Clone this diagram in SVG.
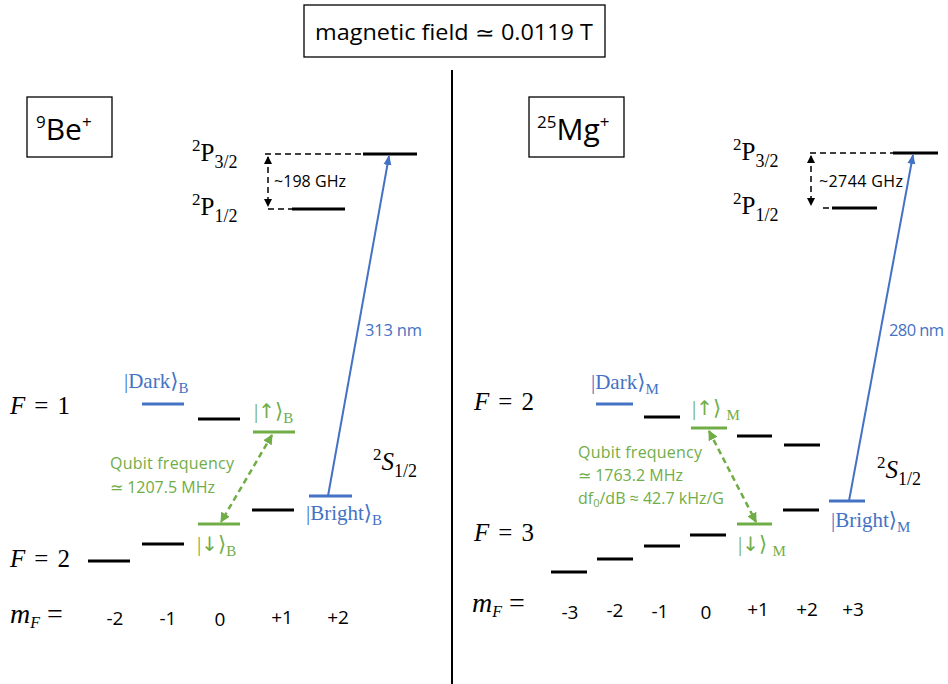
<svg xmlns="http://www.w3.org/2000/svg" width="948" height="684" viewBox="0 0 948 684">
<style>
.sans{font-family:"Open Sans","Liberation Sans",sans-serif}
.serif{font-family:"Liberation Serif","DejaVu Serif",serif}
.math{font-family:"Liberation Serif","DejaVu Serif",serif;font-size:25px}
.it{font-style:italic}
.lvl{stroke:#000;stroke-width:3}
.blue{stroke:#4472C4;stroke-width:3}
.green{stroke:#70AD47;stroke-width:3}
.box{fill:#fff;stroke:#000;stroke-width:1.3}
.dash{stroke:#000;stroke-width:1.5;stroke-dasharray:6 4;fill:none}
.gtxt{fill:#70AD47;font-size:16px}
.btxt{fill:#4472C4}
.ket{font-size:21px}
.arr{font-family:"DejaVu Sans",sans-serif;font-size:20px}
</style>
<defs>
<marker id="ab" markerWidth="8" markerHeight="8" refX="7" refY="4" orient="auto-start-reverse" markerUnits="userSpaceOnUse"><path d="M0,0 L8,4 L0,8 z" fill="#000"/></marker>
<marker id="ag" markerWidth="10" markerHeight="10" refX="9" refY="5" orient="auto-start-reverse" markerUnits="userSpaceOnUse"><path d="M0,0 L10,5 L0,10 z" fill="#70AD47"/></marker>
<marker id="abl" markerWidth="10" markerHeight="10" refX="9" refY="5" orient="auto" markerUnits="userSpaceOnUse"><path d="M0,1 L10,5 L0,9 z" fill="#4472C4"/></marker>
</defs>
<rect width="948" height="684" fill="#fff"/>

<g id="title">
<rect class="box" x="304" y="5" width="301" height="52"/>
<text class="sans" x="454" y="40" font-size="21" text-anchor="middle" textLength="278" lengthAdjust="spacingAndGlyphs">magnetic field ≃ 0.0119 T</text>
</g>
<g id="divider"><line x1="452" y1="70" x2="452" y2="684" stroke="#000" stroke-width="2"/></g>

<!-- LEFT: Be -->
<g id="be-label">
<rect class="box" x="27" y="97" width="85" height="60"/>
<text class="sans" x="36" y="140" font-size="30"><tspan font-size="17" dy="-12">9</tspan><tspan dy="12">Be</tspan><tspan font-size="17" dy="-12">+</tspan></text>
</g>
<g id="be-p32">
<text class="math" x="192" y="161"><tspan font-size="17" dy="-10">2</tspan><tspan dy="10">P</tspan><tspan font-size="18" dy="7">3/2</tspan></text>
<line class="lvl" x1="363" y1="154" x2="417" y2="154"/>
</g>
<g id="be-p12">
<text class="math" x="192" y="215"><tspan font-size="17" dy="-10">2</tspan><tspan dy="10">P</tspan><tspan font-size="18" dy="7">1/2</tspan></text>
<line class="lvl" x1="292" y1="209" x2="345" y2="209"/>
</g>
<g id="be-s12"><text class="math" x="373" y="470"><tspan font-size="17" dy="-10">2</tspan><tspan class="it" dy="10">S</tspan><tspan font-size="18" dy="7">1/2</tspan></text></g>
<g id="be-F1"><text class="math" x="10" y="414" textLength="60"><tspan class="it">F</tspan> = 1</text></g>
<g id="be-F2"><text class="math" x="10" y="567" textLength="60"><tspan class="it">F</tspan> = 2</text></g>
<g id="be-dark">
<line class="blue" x1="142" y1="404" x2="184" y2="404"/>
<text class="serif btxt ket" x="124" y="388">|Dark⟩<tspan font-size="15" dy="5">B</tspan></text>
</g>
<g id="be-F1m0"><line class="lvl" x1="198" y1="419" x2="240" y2="419"/></g>
<g id="be-up">
<line class="green" x1="253" y1="432" x2="295" y2="432"/>
<text class="serif ket" fill="#70AD47" x="254" y="418">|<tspan class="arr">↑</tspan>⟩<tspan font-size="15" dy="5">B</tspan></text>
</g>
<g id="be-bright">
<line class="blue" x1="309" y1="496" x2="352" y2="496"/>
<text class="serif btxt ket" x="306" y="520">|Bright⟩<tspan font-size="15" dy="5">B</tspan></text>
</g>
<g id="be-F2p1"><line class="lvl" x1="252" y1="510" x2="294" y2="510"/></g>
<g id="be-down">
<line class="green" x1="198" y1="524" x2="240" y2="524"/>
<text class="serif ket" fill="#70AD47" x="197" y="551">|<tspan class="arr">↓</tspan>⟩<tspan font-size="15" dy="5">B</tspan></text>
</g>
<g id="be-F2m1"><line class="lvl" x1="142" y1="544" x2="184" y2="544"/></g>
<g id="be-F2m2"><line class="lvl" x1="88" y1="561" x2="130" y2="561"/></g>
<g id="be-qubit">
<text class="sans gtxt" x="110" y="469" textLength="124">Qubit frequency</text>
<text class="sans gtxt" x="110" y="493">≃ 1207.5 MHz</text>
</g>
<g id="be-ghz"><text class="sans" x="274" y="187" font-size="16" textLength="72">~198 GHz</text></g>
<g id="be-nm"><text class="sans btxt" x="365" y="336" font-size="16.5" textLength="57">313 nm</text></g>
<g id="be-mf">
<text class="math" x="10" y="623"><tspan class="it" font-size="28">m</tspan><tspan class="it" font-size="16" dy="5">F</tspan><tspan dy="-5" font-size="28"> =</tspan></text>
<g class="sans" font-size="19" text-anchor="middle">
<text x="115" y="625">-2</text><text x="168" y="625">-1</text><text x="220" y="626">0</text><text x="282" y="624">+1</text><text x="338" y="624">+2</text>
</g>
</g>

<!-- RIGHT: Mg -->
<g id="mg-label">
<rect class="box" x="529" y="97" width="95" height="60"/>
<text class="sans" x="537" y="140" font-size="30"><tspan font-size="17" dy="-12">25</tspan><tspan dy="12">Mg</tspan><tspan font-size="17" dy="-12">+</tspan></text>
</g>
<g id="mg-p32">
<text class="math" x="733" y="160"><tspan font-size="17" dy="-10">2</tspan><tspan dy="10">P</tspan><tspan font-size="18" dy="7">3/2</tspan></text>
<line class="lvl" x1="893" y1="153" x2="938" y2="153"/>
</g>
<g id="mg-p12">
<text class="math" x="733" y="214"><tspan font-size="17" dy="-10">2</tspan><tspan dy="10">P</tspan><tspan font-size="18" dy="7">1/2</tspan></text>
<line class="lvl" x1="832" y1="208" x2="877" y2="208"/>
</g>
<g id="mg-s12"><text class="math" x="877" y="478"><tspan font-size="17" dy="-10">2</tspan><tspan class="it" dy="10">S</tspan><tspan font-size="18" dy="7">1/2</tspan></text></g>
<g id="mg-F2"><text class="math" x="474" y="410" textLength="60"><tspan class="it">F</tspan> = 2</text></g>
<g id="mg-F3"><text class="math" x="474" y="541" textLength="60"><tspan class="it">F</tspan> = 3</text></g>
<g id="mg-dark">
<line class="blue" x1="596" y1="404" x2="633" y2="404"/>
<text class="serif btxt ket" x="591" y="389">|Dark⟩<tspan font-size="15" dy="5">M</tspan></text>
</g>
<g id="mg-F2m1"><line class="lvl" x1="644" y1="417" x2="680" y2="417"/></g>
<g id="mg-up">
<line class="green" x1="691" y1="428" x2="727" y2="428"/>
<text class="serif ket" fill="#70AD47" x="692" y="415">|<tspan class="arr">↑</tspan>⟩ <tspan font-size="15" dy="5">M</tspan></text>
</g>
<g id="mg-F2p1"><line class="lvl" x1="737" y1="436" x2="772" y2="436"/></g>
<g id="mg-F2p2"><line class="lvl" x1="784" y1="445" x2="820" y2="445"/></g>
<g id="mg-bright">
<line class="blue" x1="829" y1="501" x2="865" y2="501"/>
<text class="serif btxt ket" x="831" y="527">|Bright⟩<tspan font-size="15" dy="5">M</tspan></text>
</g>
<g id="mg-F3p2"><line class="lvl" x1="783" y1="510" x2="819" y2="510"/></g>
<g id="mg-down">
<line class="green" x1="737" y1="524" x2="772" y2="524"/>
<text class="serif ket" fill="#70AD47" x="738" y="551">|<tspan class="arr">↓</tspan>⟩ <tspan font-size="15" dy="5">M</tspan></text>
</g>
<g id="mg-F3m0"><line class="lvl" x1="690" y1="535" x2="726" y2="535"/></g>
<g id="mg-F3m1"><line class="lvl" x1="644" y1="546" x2="680" y2="546"/></g>
<g id="mg-F3m2"><line class="lvl" x1="597" y1="559" x2="633" y2="559"/></g>
<g id="mg-F3m3"><line class="lvl" x1="551" y1="572" x2="587" y2="572"/></g>
<g id="mg-qubit">
<text class="sans gtxt" x="578" y="458" textLength="124">Qubit frequency</text>
<text class="sans gtxt" x="578" y="481">≃ 1763.2 MHz</text>
<text class="sans gtxt" x="578" y="504">df<tspan font-size="11" dy="3">0</tspan><tspan dy="-3">/dB ≈ 42.7 kHz/G</tspan></text>
</g>
<g id="mg-ghz"><text class="sans" x="819" y="187" font-size="16" textLength="84">~2744 GHz</text></g>
<g id="mg-nm"><text class="sans btxt" x="889" y="336" font-size="16.5" textLength="55">280 nm</text></g>
<g id="mg-mf">
<text class="math" x="472" y="612"><tspan class="it" font-size="28">m</tspan><tspan class="it" font-size="16" dy="5">F</tspan><tspan dy="-5" font-size="28"> =</tspan></text>
<g class="sans" font-size="19" text-anchor="middle">
<text x="570" y="619">-3</text><text x="615" y="617">-2</text><text x="660" y="618">-1</text><text x="706" y="619">0</text><text x="758" y="616">+1</text><text x="807" y="616">+2</text><text x="853" y="616">+3</text>
</g>
</g>

<g id="connectors">
<line class="dash" x1="265" y1="154" x2="363" y2="154"/>
<line class="dash" x1="268" y1="209" x2="292" y2="209"/>
<line class="dash" x1="268" y1="157" x2="268" y2="206" marker-start="url(#ab)" marker-end="url(#ab)"/>
<line x1="328" y1="496" x2="389" y2="156" stroke="#4472C4" stroke-width="2" marker-end="url(#abl)"/>
<line x1="272" y1="435" x2="221" y2="522" stroke="#70AD47" stroke-width="2.5" stroke-dasharray="6 4" marker-start="url(#ag)" marker-end="url(#ag)"/>
<line class="dash" x1="810" y1="153" x2="893" y2="153"/>
<line class="dash" x1="823" y1="208" x2="832" y2="208"/>
<line class="dash" x1="811" y1="156" x2="811" y2="205" marker-start="url(#ab)" marker-end="url(#ab)"/>
<line x1="849" y1="501" x2="913" y2="155" stroke="#4472C4" stroke-width="2" marker-end="url(#abl)"/>
<line x1="709" y1="431" x2="756" y2="522" stroke="#70AD47" stroke-width="2.5" stroke-dasharray="6 4" marker-start="url(#ag)" marker-end="url(#ag)"/>
</g>
</svg>
